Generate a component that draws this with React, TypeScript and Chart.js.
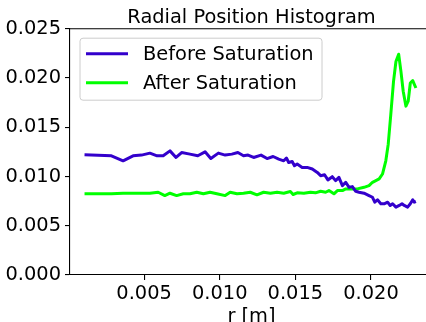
import React, { useEffect, useRef } from "react";
import { Chart, registerables } from "chart.js";

Chart.register(...registerables);

const titleText = "Radial Position Histogram";
const xLabel = "r [m]";
const seriesLabels = ["Before Saturation", "After Saturation"];
const seriesColors = ["#3300cc", "#00ff00"];

const xTicks = [0.005, 0.01, 0.015, 0.02];
const yTicks = [0, 0.005, 0.01, 0.015, 0.02, 0.025];

const beforeR = [
  0.00106, 0.00284, 0.00361, 0.00427, 0.00483, 0.00538, 0.00586, 0.00626, 0.00671, 0.00711,
  0.00748, 0.00803, 0.00855, 0.00903, 0.00941, 0.00991, 0.01036, 0.0108, 0.0112, 0.01157,
  0.01187, 0.01224, 0.01273, 0.01313, 0.01353, 0.0139, 0.01423, 0.01441, 0.01456, 0.01479,
  0.01494, 0.01512, 0.01545, 0.01578, 0.01612, 0.01645, 0.01667, 0.01693, 0.01715, 0.01744,
  0.01766, 0.01788, 0.01811, 0.01833, 0.01855, 0.01877, 0.01899, 0.01921, 0.01954, 0.01987,
  0.0201, 0.02025, 0.02043, 0.02065, 0.02087, 0.0211, 0.02127, 0.02143, 0.02165, 0.02187,
  0.02205, 0.0222, 0.02242, 0.0226, 0.02276, 0.02286, 0.02297,
];
const beforeY = [
  0.0122, 0.0121, 0.01159, 0.0121, 0.01217, 0.01237, 0.0121, 0.0121, 0.0126, 0.01193,
  0.01243, 0.01227, 0.0121, 0.0125, 0.01182, 0.01237, 0.01217, 0.01227, 0.01243, 0.0121,
  0.01217, 0.01193, 0.01217, 0.01182, 0.01203, 0.01176, 0.01159, 0.01187, 0.01142, 0.01152,
  0.01109, 0.01126, 0.01092, 0.01092, 0.01076, 0.01041, 0.01008, 0.01018, 0.00965, 0.00998,
  0.00958, 0.00991, 0.00907, 0.00941, 0.0089, 0.00897, 0.0085, 0.0084, 0.0083, 0.00806,
  0.00789, 0.00739, 0.00763, 0.00723, 0.00723, 0.00739, 0.00706, 0.00723, 0.00689, 0.00706,
  0.00723, 0.00706, 0.00689, 0.00723, 0.00763, 0.00739, 0.00746,
];

const afterR = [
  0.00106, 0.00284, 0.00361, 0.00538, 0.00593, 0.00637, 0.00671, 0.00715, 0.00759, 0.00803,
  0.00848, 0.00892, 0.00936, 0.00981, 0.01036, 0.01069, 0.01114, 0.01157, 0.01202, 0.01246,
  0.0129, 0.01335, 0.01379, 0.01423, 0.01467, 0.01485, 0.01512, 0.01556, 0.016, 0.01633,
  0.01667, 0.017, 0.01722, 0.01755, 0.01778, 0.01811, 0.01833, 0.01866, 0.0191, 0.01954,
  0.01987, 0.0201, 0.02032, 0.02054, 0.02076, 0.02098, 0.02114, 0.02131, 0.02149, 0.02165,
  0.02183, 0.02198, 0.02213, 0.02231, 0.02246, 0.0226, 0.02276, 0.02297,
];
const afterY = [
  0.00824, 0.00824, 0.0083, 0.0083, 0.0084, 0.00806, 0.0083, 0.00806, 0.00824, 0.00824,
  0.0084, 0.00824, 0.0084, 0.00824, 0.00806, 0.0084, 0.00824, 0.0083, 0.0084, 0.00814,
  0.0084, 0.0083, 0.0084, 0.0083, 0.00847, 0.00817, 0.00834, 0.0083, 0.0084, 0.00834,
  0.0085, 0.0084, 0.00857, 0.00824, 0.00857, 0.00857, 0.00874, 0.00874, 0.00874, 0.0089,
  0.00907, 0.00941, 0.00958, 0.00975, 0.01025, 0.01159, 0.01328, 0.0163, 0.01966, 0.02167,
  0.02241, 0.02067, 0.01865, 0.01714, 0.01764, 0.01949, 0.01973, 0.01898,
];

const X_MIN = 0.0001;
const X_MAX = 0.0241;
const Y_MIN = 0;
const Y_MAX = 0.025;

const FONT = "'DejaVu Sans', sans-serif";
const FS = 19.4;

const CW = 440;
const CH = 330;

const toPoints = (xs: number[], ys: number[]) => xs.map((x, i) => ({ x, y: ys[i] }));

const framePlugin = {
  id: "frame",
  afterDraw(chart: any) {
    const { ctx, chartArea } = chart;
    ctx.save();
    // top and right spines
    ctx.strokeStyle = "#000";
    ctx.lineWidth = 1.1;
    ctx.beginPath();
    ctx.moveTo(chartArea.left, chartArea.top);
    ctx.lineTo(chartArea.right, chartArea.top);
    ctx.lineTo(chartArea.right, chartArea.bottom);
    ctx.stroke();
    // title
    ctx.fillStyle = "#000";
    ctx.font = `${FS}px ${FONT}`;
    ctx.textAlign = "center";
    ctx.textBaseline = "alphabetic";
    ctx.fillText(titleText, (chartArea.left + chartArea.right) / 2, chartArea.top - 6);
    // legend
    const bx = chartArea.left + 10;
    const by = chartArea.top + 9.5;
    const bw = 242;
    const bh = 62;
    const r = 3;
    ctx.beginPath();
    ctx.moveTo(bx + r, by);
    ctx.lineTo(bx + bw - r, by);
    ctx.arcTo(bx + bw, by, bx + bw, by + r, r);
    ctx.lineTo(bx + bw, by + bh - r);
    ctx.arcTo(bx + bw, by + bh, bx + bw - r, by + bh, r);
    ctx.lineTo(bx + r, by + bh);
    ctx.arcTo(bx, by + bh, bx, by + bh - r, r);
    ctx.lineTo(bx, by + r);
    ctx.arcTo(bx, by, bx + r, by, r);
    ctx.closePath();
    ctx.fillStyle = "rgba(255,255,255,0.8)";
    ctx.fill();
    ctx.strokeStyle = "#cccccc";
    ctx.lineWidth = 1;
    ctx.stroke();
    chart.data.datasets.forEach((ds: any, i: number) => {
      const ly = by + 15.5 + i * 29;
      ctx.strokeStyle = ds.borderColor;
      ctx.lineWidth = 3;
      ctx.beginPath();
      ctx.moveTo(bx + 6, ly);
      ctx.lineTo(bx + 48, ly);
      ctx.stroke();
      ctx.fillStyle = "#000";
      ctx.textAlign = "left";
      ctx.textBaseline = "middle";
      ctx.fillText(ds.label, bx + 63, ly + 1);
    });
    ctx.restore();
  },
};

export default function App() {
  const ref = useRef<HTMLCanvasElement | null>(null);
  useEffect(() => {
    document.body.style.margin = "0";
    const canvas = ref.current;
    if (!canvas) return;
    const chart = new Chart(canvas, {
      type: "line",
      data: {
        datasets: [
          {
            label: seriesLabels[0],
            data: toPoints(beforeR, beforeY),
            borderColor: seriesColors[0],
            backgroundColor: seriesColors[0],
            borderWidth: 3,
            borderJoinStyle: "round",
            pointRadius: 0,
            tension: 0,
            fill: false,
          },
          {
            label: seriesLabels[1],
            data: toPoints(afterR, afterY),
            borderColor: seriesColors[1],
            backgroundColor: seriesColors[1],
            borderWidth: 3,
            borderJoinStyle: "round",
            pointRadius: 0,
            tension: 0,
            fill: false,
          },
        ],
      },
      options: {
        responsive: false,
        animation: false,
        devicePixelRatio: 1,
        layout: { padding: { top: 28.7, right: CW - 433, left: 0, bottom: 0 } },
        plugins: {
          legend: { display: false },
          tooltip: { enabled: false },
          title: { display: false },
        },
        scales: {
          x: {
            type: "linear",
            min: X_MIN,
            max: X_MAX,
            afterBuildTicks: (scale: any) => {
              scale.ticks = xTicks.map((v) => ({ value: v }));
            },
            afterFit: (scale: any) => {
              scale.height = CH - 275;
            },
            ticks: {
              color: "#000",
              font: { family: FONT, size: FS },
              padding: 2,
              maxRotation: 0,
              autoSkip: false,
              callback: (v: any) => Number(v).toFixed(3),
            },
            grid: {
              display: true,
              drawOnChartArea: false,
              drawTicks: true,
              tickLength: 5,
              color: "#000",
              lineWidth: 1.1,
            },
            border: { display: true, color: "#000", width: 1.1 },
            title: {
              display: true,
              text: xLabel,
              color: "#000",
              font: { family: FONT, size: FS },
              padding: { top: 0, bottom: 1 },
            },
          },
          y: {
            type: "linear",
            min: Y_MIN,
            max: Y_MAX,
            afterBuildTicks: (scale: any) => {
              scale.ticks = yTicks.map((v) => ({ value: v }));
            },
            afterFit: (scale: any) => {
              scale.width = 70;
            },
            ticks: {
              color: "#000",
              font: { family: FONT, size: FS },
              padding: 4,
              callback: (v: any) => Number(v).toFixed(3),
            },
            grid: {
              display: true,
              drawOnChartArea: false,
              drawTicks: true,
              tickLength: 5,
              color: "#000",
              lineWidth: 1.1,
            },
            border: { display: true, color: "#000", width: 1.1 },
          },
        },
      },
      plugins: [framePlugin],
    });
    return () => chart.destroy();
  }, []);
  return (
    <div
      style={{
        position: "fixed",
        left: 0,
        top: 0,
        width: 426,
        height: 322,
        overflow: "hidden",
        background: "#fff",
      }}
    >
      <canvas ref={ref} width={CW} height={CH} style={{ width: CW, height: CH, display: "block" }} />
    </div>
  );
}
